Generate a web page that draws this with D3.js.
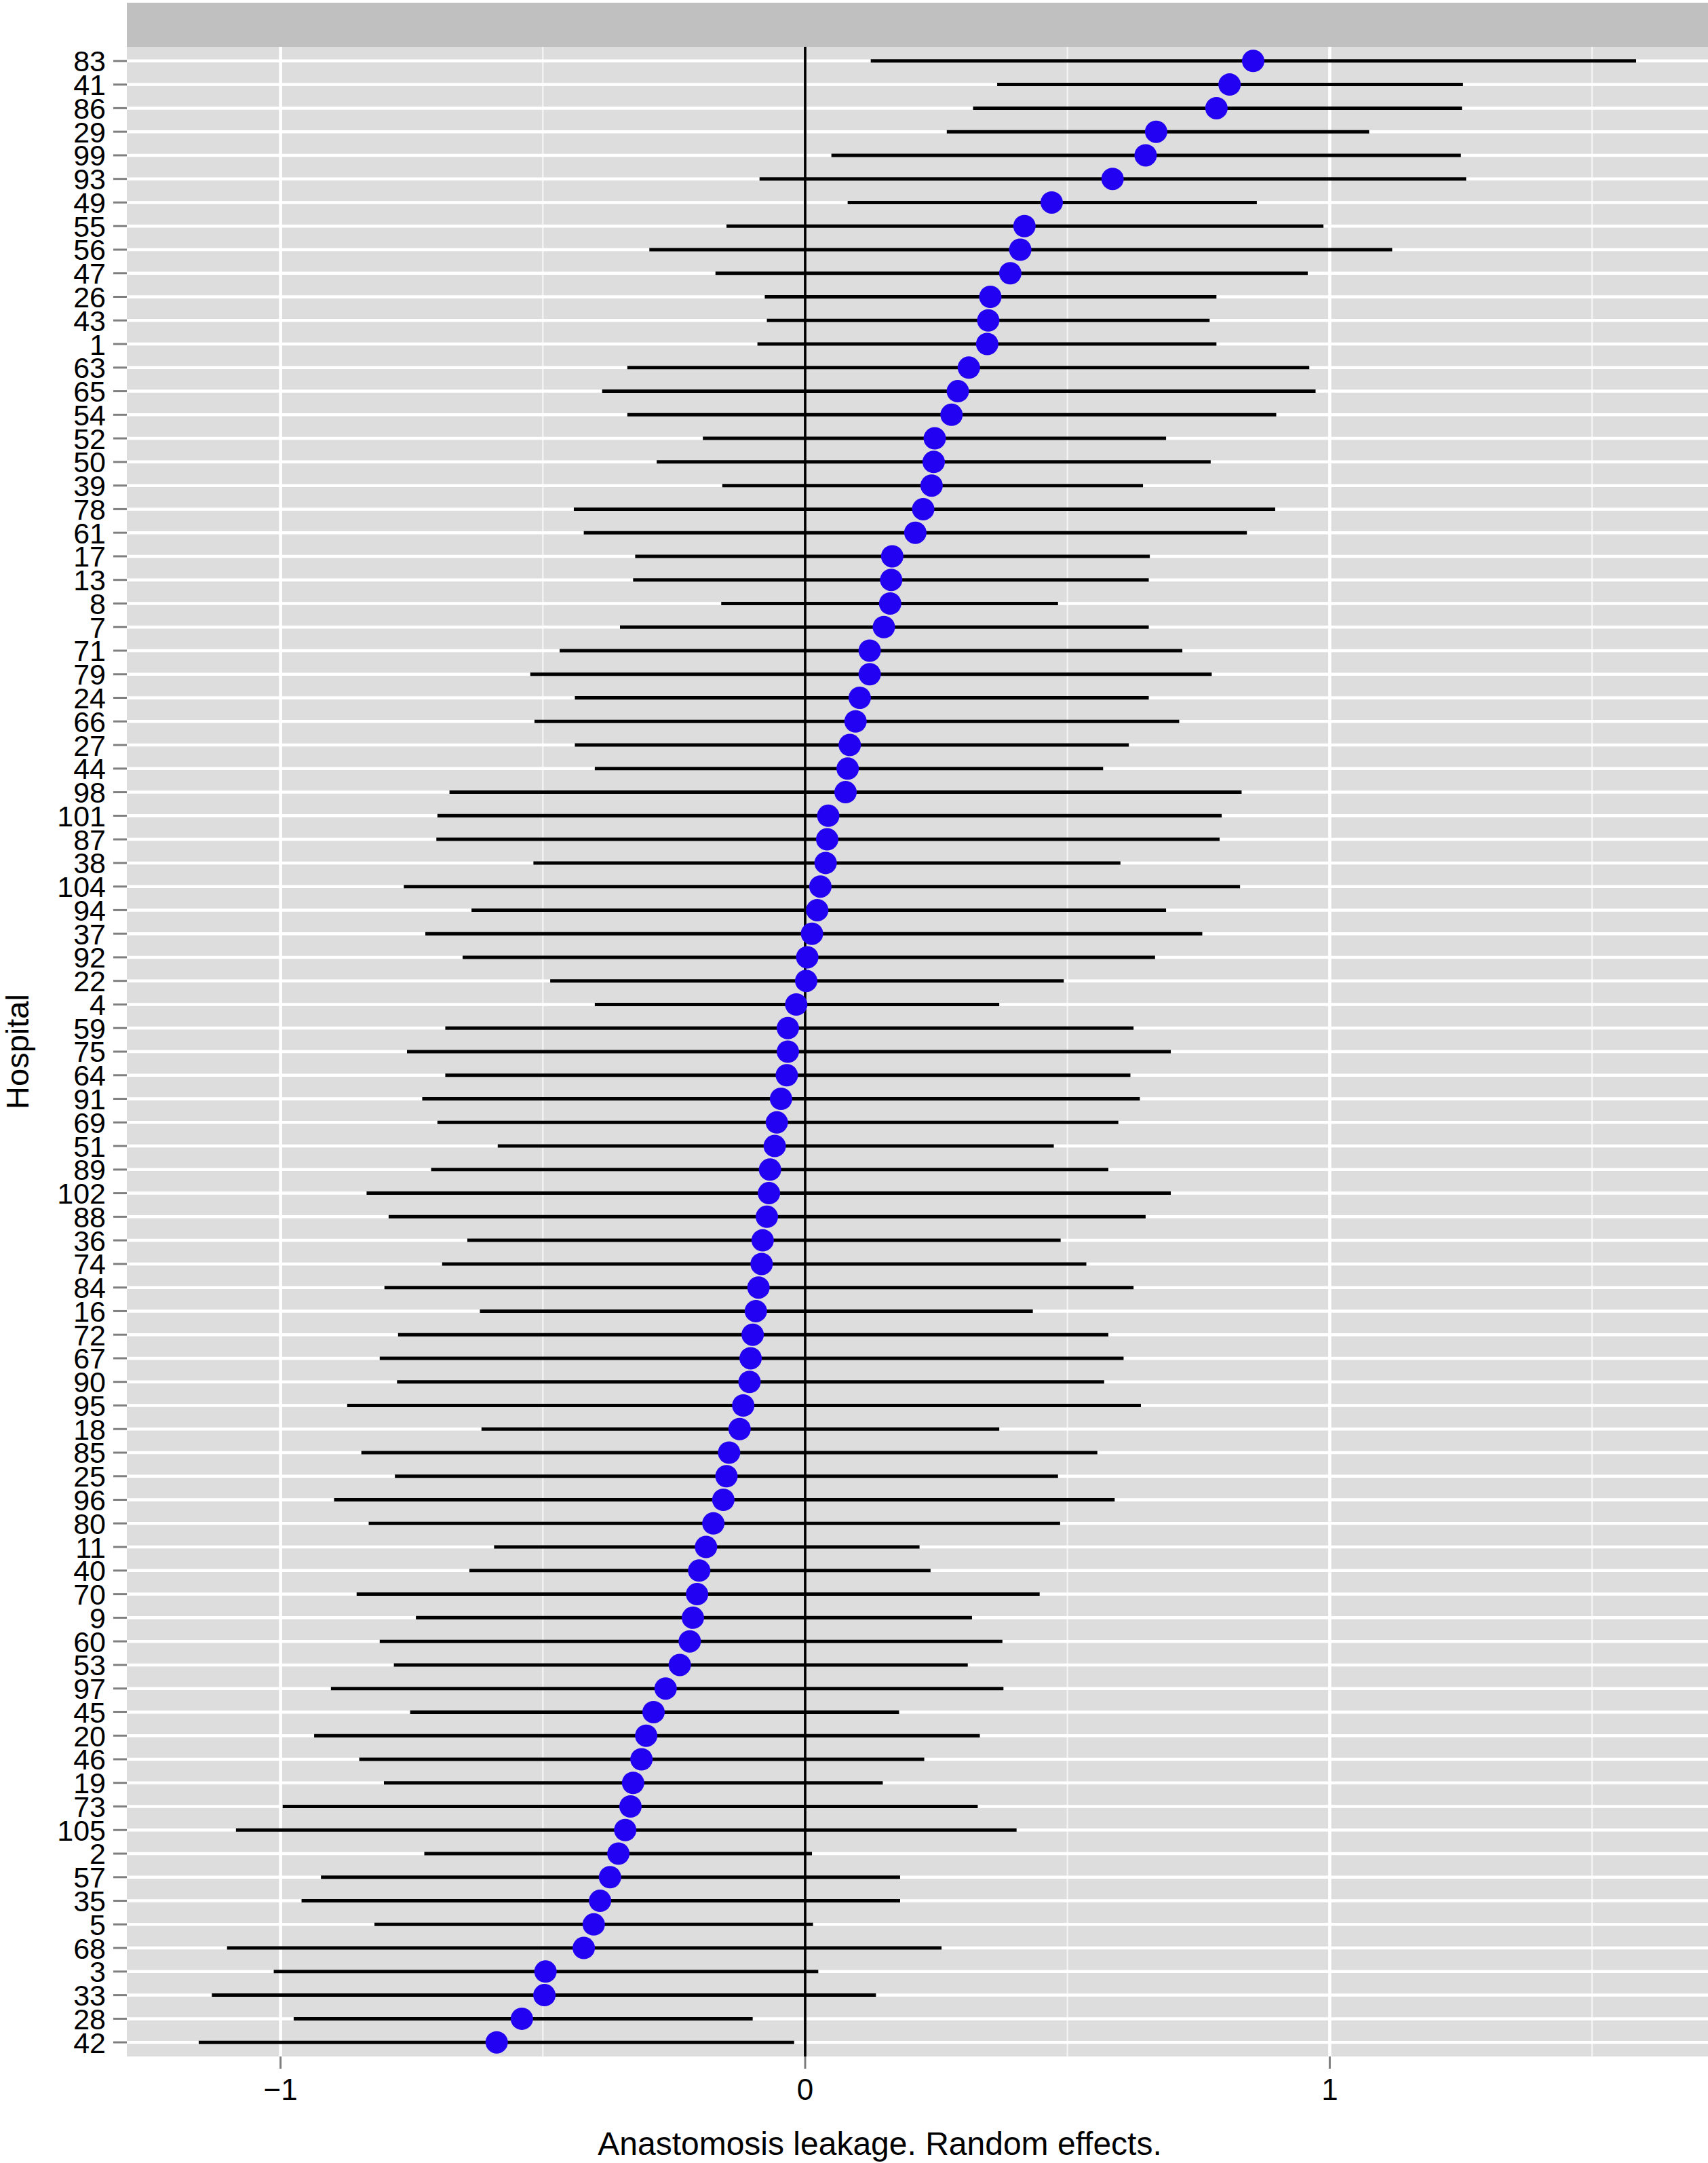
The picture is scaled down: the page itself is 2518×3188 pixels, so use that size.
<!DOCTYPE html>
<html>
<head>
<meta charset="utf-8">
<script src="https://cdn.jsdelivr.net/npm/d3@7"></script>
<style>
  html, body { margin: 0; padding: 0; background: #ffffff; }
  svg { display: block; }
  text { font-family: "Liberation Sans", Arial, Helvetica, sans-serif; }
</style>
</head>
<body>
<svg id="chart" width="2518" height="3188"></svg>
<script>
// Hospitals, top to bottom
const hospitals = ["83","41","86","29","99","93","49","55","56","47","26","43","1","63","65","54","52","50","39","78","61","17","13","8","7","71","79","24","66","27","44","98","101","87","38","104","94","37","92","22","4","59","75","64","91","69","51","89","102","88","36","74","84","16","72","67","90","95","18","85","25","96","80","11","40","70","9","60","53","97","45","20","46","19","73","105","2","57","35","5","68","3","33","28","42"];

// Random-effect estimates
const estimate = [0.854,0.809,0.784,0.669,0.649,0.586,0.470,0.418,0.410,0.391,0.353,0.349,0.347,0.312,0.291,0.279,0.247,0.245,0.241,0.225,0.210,0.166,0.164,0.162,0.150,0.123,0.123,0.104,0.096,0.085,0.081,0.077,0.044,0.042,0.039,0.029,0.023,0.013,0.004,0.002,-0.017,-0.033,-0.033,-0.035,-0.046,-0.054,-0.058,-0.067,-0.069,-0.073,-0.081,-0.083,-0.089,-0.094,-0.100,-0.104,-0.106,-0.118,-0.125,-0.145,-0.150,-0.156,-0.175,-0.189,-0.202,-0.206,-0.214,-0.220,-0.239,-0.266,-0.289,-0.303,-0.312,-0.328,-0.333,-0.343,-0.356,-0.372,-0.391,-0.403,-0.422,-0.495,-0.497,-0.540,-0.588];

// Lower interval bounds
const lower = [0.125,0.366,0.320,0.270,0.050,-0.087,0.081,-0.150,-0.297,-0.171,-0.077,-0.073,-0.091,-0.339,-0.387,-0.339,-0.195,-0.283,-0.158,-0.441,-0.422,-0.324,-0.328,-0.160,-0.353,-0.468,-0.524,-0.439,-0.516,-0.439,-0.401,-0.678,-0.701,-0.703,-0.518,-0.765,-0.636,-0.724,-0.653,-0.486,-0.401,-0.686,-0.759,-0.686,-0.730,-0.701,-0.586,-0.713,-0.836,-0.794,-0.644,-0.692,-0.802,-0.620,-0.776,-0.811,-0.778,-0.873,-0.617,-0.846,-0.782,-0.898,-0.832,-0.593,-0.640,-0.855,-0.742,-0.811,-0.784,-0.904,-0.753,-0.936,-0.850,-0.803,-0.996,-1.085,-0.726,-0.923,-0.960,-0.821,-1.102,-1.013,-1.131,-0.975,-1.156];

// Upper interval bounds
const upper = [1.584,1.254,1.252,1.075,1.250,1.260,0.861,0.988,1.119,0.958,0.784,0.771,0.784,0.961,0.973,0.898,0.688,0.773,0.644,0.896,0.842,0.657,0.655,0.482,0.655,0.719,0.775,0.655,0.713,0.617,0.568,0.832,0.794,0.790,0.601,0.829,0.688,0.757,0.667,0.493,0.370,0.626,0.697,0.620,0.638,0.597,0.474,0.578,0.697,0.649,0.487,0.536,0.626,0.434,0.578,0.607,0.570,0.640,0.370,0.557,0.482,0.590,0.486,0.218,0.239,0.447,0.318,0.376,0.310,0.378,0.179,0.333,0.227,0.148,0.329,0.403,0.013,0.181,0.181,0.015,0.260,0.025,0.135,-0.100,-0.021];

const xMajorTicks = [-1, 0, 1];
const xTickLabels = ["\u22121", "0", "1"];
const xMinorTicks = [-1.5, -0.5, 0.5, 1.5];

const xTitle = "Anastomosis leakage. Random effects.";
const yTitle = "Hospital";

const rows = hospitals.map((h, i) => ({ h, est: estimate[i], lo: lower[i], hi: upper[i] }));

const W = 2518, H = 3188;
const panel = { left: 187, right: 2518, top: 69, bottom: 3031 };
const strip = { top: 4, bottom: 69 };

const svg = d3.select("#chart");
svg.append("rect").attr("x", 0).attr("y", 0).attr("width", W).attr("height", H).attr("fill", "#ffffff");

// scales (ggplot-style 5% expansion)
const lo = d3.min(lower), hi = d3.max(upper);
const pad = (hi - lo) * 0.05;
const x = d3.scaleLinear().domain([lo - pad, hi + pad]).range([panel.left, panel.right]);
const y = d3.scalePoint().domain(hospitals).range([panel.top, panel.bottom]).padding(0.6);

// strip
svg.append("rect")
  .attr("x", panel.left).attr("y", strip.top)
  .attr("width", panel.right - panel.left).attr("height", strip.bottom - strip.top)
  .attr("fill", "#c0c0c0");

// panel background
svg.append("rect")
  .attr("x", panel.left).attr("y", panel.top)
  .attr("width", panel.right - panel.left).attr("height", panel.bottom - panel.top)
  .attr("fill", "#dddddd");

const grid = svg.append("g");
// minor vertical grid
grid.selectAll("line.minor").data(xMinorTicks.filter(v => x(v) > panel.left && x(v) < panel.right))
  .join("line")
  .attr("x1", d => x(d)).attr("x2", d => x(d))
  .attr("y1", panel.top).attr("y2", panel.bottom)
  .attr("stroke", "#f4f4f4").attr("stroke-width", 2.2);
// major vertical grid
grid.selectAll("line.majorx").data(xMajorTicks)
  .join("line")
  .attr("x1", d => x(d)).attr("x2", d => x(d))
  .attr("y1", panel.top).attr("y2", panel.bottom)
  .attr("stroke", "#ffffff").attr("stroke-width", 4.5);
// horizontal grid at each hospital
grid.selectAll("line.majory").data(hospitals)
  .join("line")
  .attr("x1", panel.left).attr("x2", panel.right)
  .attr("y1", d => y(d)).attr("y2", d => y(d))
  .attr("stroke", "#ffffff").attr("stroke-width", 4.5);

// zero reference line
svg.append("line")
  .attr("x1", x(0)).attr("x2", x(0))
  .attr("y1", panel.top).attr("y2", panel.bottom)
  .attr("stroke", "#000000").attr("stroke-width", 3.8);

// interval bars
svg.append("g").selectAll("line").data(rows)
  .join("line")
  .attr("x1", d => x(d.lo)).attr("x2", d => x(d.hi))
  .attr("y1", d => y(d.h)).attr("y2", d => y(d.h))
  .attr("stroke", "#000000").attr("stroke-width", 5);

// points
svg.append("g").selectAll("circle").data(rows)
  .join("circle")
  .attr("cx", d => x(d.est)).attr("cy", d => y(d.h))
  .attr("r", 16.5)
  .attr("fill", "#2200f2");

// y axis ticks and labels
const yAxis = svg.append("g");
yAxis.selectAll("line").data(hospitals)
  .join("line")
  .attr("x1", panel.left - 20).attr("x2", panel.left)
  .attr("y1", d => y(d)).attr("y2", d => y(d))
  .attr("stroke", "#7f7f7f").attr("stroke-width", 3);
yAxis.selectAll("text").data(hospitals)
  .join("text")
  .attr("x", 156).attr("y", d => y(d))
  .attr("dy", "0.36em")
  .attr("text-anchor", "end")
  .attr("font-size", 43)
  .attr("fill", "#000000")
  .text(d => d);

// x axis ticks and labels
const xAxis = svg.append("g");
xAxis.selectAll("line").data(xMajorTicks)
  .join("line")
  .attr("x1", d => x(d)).attr("x2", d => x(d))
  .attr("y1", panel.bottom).attr("y2", panel.bottom + 18)
  .attr("stroke", "#7f7f7f").attr("stroke-width", 3);
xAxis.selectAll("text").data(xMajorTicks)
  .join("text")
  .attr("x", d => x(d)).attr("y", 3095)
  .attr("text-anchor", "middle")
  .attr("font-size", 44)
  .attr("fill", "#000000")
  .text((d, i) => xTickLabels[i]);

// axis titles
svg.append("text")
  .attr("x", 1297).attr("y", 3176)
  .attr("text-anchor", "middle")
  .attr("font-size", 48)
  .attr("fill", "#000000")
  .text(xTitle);

svg.append("text")
  .attr("transform", "translate(42," + ((panel.top + panel.bottom) / 2) + ") rotate(-90)")
  .attr("text-anchor", "middle")
  .attr("font-size", 47)
  .attr("fill", "#000000")
  .text(yTitle);
</script>
</body>
</html>
